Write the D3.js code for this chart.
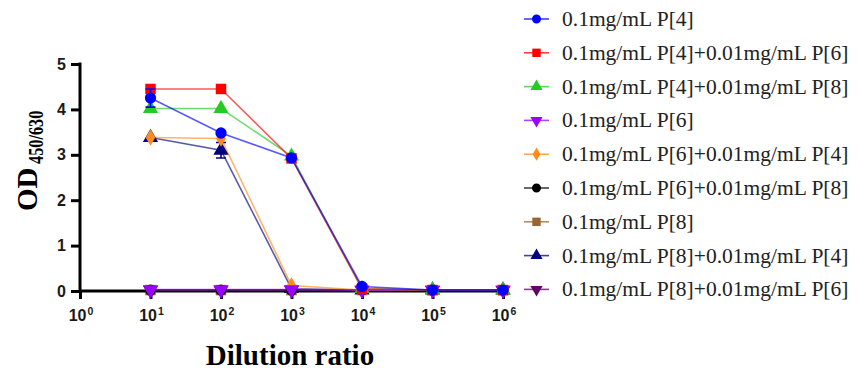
<!DOCTYPE html>
<html>
<head>
<meta charset="utf-8">
<script src="https://cdn.jsdelivr.net/npm/d3@7"></script>
<style>
  body { margin: 0; background: #fff; }
  svg { display: block; }
</style>
</head>
<body>
<div id="chart"></div>
<script>
// dilution points (x) and tick exponents
const dilutions = [10, 100, 1000, 10000, 100000, 1000000];
const xTickExps = [0, 1, 2, 3, 4, 5, 6];
const yTicks = [0, 1, 2, 3, 4, 5];

const seriesNames = [
  '0.1mg/mL P[4]',
  '0.1mg/mL P[4]+0.01mg/mL P[6]',
  '0.1mg/mL P[4]+0.01mg/mL P[8]',
  '0.1mg/mL P[6]',
  '0.1mg/mL P[6]+0.01mg/mL P[4]',
  '0.1mg/mL P[6]+0.01mg/mL P[8]',
  '0.1mg/mL P[8]',
  '0.1mg/mL P[8]+0.01mg/mL P[4]',
  '0.1mg/mL P[8]+0.01mg/mL P[6]'
];

// OD values
const p4     = [4.25, 3.48, 2.93, 0.10, 0.02, 0.02];
const p4p6   = [4.45, 4.45, 2.92, 0.05, 0.02, 0.02];
const p4p8   = [4.02, 4.02, 2.97, 0.05, 0.02, 0.02];
const p6     = [0.03, 0.03, 0.03, 0.02, 0.02, 0.02];
const p6p4   = [3.38, 3.36, 0.12, 0.02, 0.02, 0.02];
const p6p8   = [0.02, 0.02, 0.02, 0.02, 0.02, 0.02];
const p8     = [0.02, 0.02, 0.02, 0.02, 0.02, 0.02];
const p8p4   = [3.38, 3.10, 0.05, 0.02, 0.02, 0.02];
const p8p6   = [0.02, 0.02, 0.02, 0.02, 0.02, 0.02];

// error bars (SD)
const p4Err   = [0.2, 0, 0, 0, 0, 0];
const p8p4Err = [0, 0.17, 0, 0, 0, 0];

const seriesValues = [p4, p4p6, p4p8, p6, p6p4, p6p8, p8, p8p4, p8p6];
const seriesErrors = [p4Err, null, null, null, null, null, null, p8p4Err, null];
const seriesColors = ['#0000ff', '#ff0000', '#22cc22', '#9900ff', '#ff8c1a',
                      '#000000', '#996633', '#000080', '#660066'];
const seriesShapes = ['circle', 'square', 'triangle', 'down', 'diamond',
                      'circle', 'square', 'triangle', 'down'];

const W = 859, H = 372;
const svg = d3.select('#chart').append('svg')
  .attr('width', W).attr('height', H);

const x = d3.scaleLog().domain([1, 1e6]).range([80, 503]);
const y = d3.scaleLinear().domain([0, 5]).range([291, 64]);

function symbolFor(shape) {
  const s = d3.symbol();
  if (shape === 'circle') return s.type(d3.symbolCircle).size(100)();
  if (shape === 'square') return s.type(d3.symbolSquare).size(110)();
  if (shape === 'diamond') return s.type(d3.symbolDiamond).size(80)();
  return s.type(d3.symbolTriangle).size(100)();
}
function markerTransform(shape, px, py) {
  return shape === 'down' ? `translate(${px},${py}) rotate(180)` : `translate(${px},${py})`;
}

// axes
const xAxis = svg.append('g')
  .attr('transform', `translate(0,${y(0)})`)
  .call(d3.axisBottom(x).tickValues(xTickExps.map(e => Math.pow(10, e)))
    .tickSize(8).tickSizeOuter(0).tickFormat(''));
xAxis.select('.domain').attr('stroke', '#000').attr('stroke-width', 3)
  .attr('d', `M80,0H508`);
xAxis.selectAll('.tick line').attr('stroke', '#000').attr('stroke-width', 3);

xTickExps.forEach(e => {
  const t = svg.append('text')
    .attr('x', x(Math.pow(10, e)) + 1)
    .attr('y', 321)
    .attr('text-anchor', 'middle')
    .style('font-family', 'Arial, "Liberation Sans", sans-serif')
    .style('font-weight', 'bold')
    .style('font-size', '16px')
    .attr('fill', '#1a1a1a');
  t.append('tspan').text('10');
  t.append('tspan').attr('dx', 1).attr('dy', -6).style('font-size', '10.5px').text(e);
});

const yAxis = svg.append('g')
  .attr('transform', `translate(${x(1)},0)`)
  .call(d3.axisLeft(y).tickValues(yTicks).tickSize(9).tickSizeOuter(0).tickPadding(5)
    .tickFormat(d3.format('d')));
yAxis.select('.domain').attr('stroke', '#000').attr('stroke-width', 3)
  .attr('d', `M0,${y(5) - 1.5}V${y(0)}`);
yAxis.selectAll('.tick line').attr('stroke', '#000').attr('stroke-width', 3);
yAxis.selectAll('.tick text')
  .style('font-family', 'Arial, "Liberation Sans", sans-serif')
  .style('font-weight', 'bold')
  .style('font-size', '16px')
  .attr('fill', '#1a1a1a');

// axis titles
svg.append('text')
  .attr('x', 290).attr('y', 365)
  .attr('text-anchor', 'middle')
  .style('font-family', '"Liberation Serif", "Times New Roman", serif')
  .style('font-weight', 'bold')
  .style('font-size', '29px')
  .text('Dilution ratio');

const yt = svg.append('g').attr('transform', 'translate(37,211) rotate(-90)');
yt.append('text')
  .style('font-family', '"Liberation Serif", "Times New Roman", serif')
  .style('font-weight', 'bold')
  .style('font-size', '29px')
  .text('OD');
yt.append('g').attr('transform', 'translate(47,6) scale(0.74,1)')
  .append('text')
  .style('font-family', '"Liberation Serif", "Times New Roman", serif')
  .style('font-weight', 'bold')
  .style('font-size', '22px')
  .text('450/630');

// data: draw last series first so first series ends on top
const plot = svg.append('g');
const line = d3.line().x((d, i) => x(dilutions[i])).y(d => y(d));
const order = d3.range(seriesValues.length).reverse();

order.forEach(k => {
  plot.append('path')
    .datum(seriesValues[k])
    .attr('fill', 'none')
    .attr('stroke', seriesColors[k])
    .attr('stroke-opacity', 0.65)
    .attr('stroke-width', 1.6)
    .attr('d', line);
});

order.forEach(k => {
  const g = plot.append('g');
  const errs = seriesErrors[k];
  if (errs) {
    seriesValues[k].forEach((v, i) => {
      if (!errs[i]) return;
      const px = x(dilutions[i]);
      g.append('path')
        .attr('fill', 'none')
        .attr('stroke', seriesColors[k])
        .attr('stroke-width', 1.6)
        .attr('d', `M${px},${y(v - errs[i])}V${y(v + errs[i])}` +
          `M${px - 5},${y(v - errs[i])}H${px + 5}M${px - 5},${y(v + errs[i])}H${px + 5}`);
    });
  }
  g.selectAll('path.mk')
    .data(seriesValues[k])
    .enter().append('path')
    .attr('class', 'mk')
    .attr('d', symbolFor(seriesShapes[k]))
    .attr('transform', (d, i) => markerTransform(seriesShapes[k], x(dilutions[i]), y(d)))
    .attr('fill', seriesColors[k]);
});

// legend
const legend = svg.append('g');
seriesNames.forEach((name, k) => {
  const ly = 19 + k * 33.8;
  const row = legend.append('g');
  row.append('line')
    .attr('x1', 524).attr('x2', 549)
    .attr('y1', ly).attr('y2', ly)
    .attr('stroke', seriesColors[k])
    .attr('stroke-opacity', 0.75)
    .attr('stroke-width', 1.6);
  row.append('path')
    .attr('d', symbolFor(seriesShapes[k]))
    .attr('transform', markerTransform(seriesShapes[k], 536.5, ly) + ' scale(0.8)')
    .attr('fill', seriesColors[k]);
  row.append('text')
    .attr('x', 562).attr('y', ly + 7)
    .style('font-family', '"Liberation Serif", "Times New Roman", serif')
    .style('font-size', '21.5px')
    .attr('fill', '#222')
    .text(name);
});
</script>
</body>
</html>
